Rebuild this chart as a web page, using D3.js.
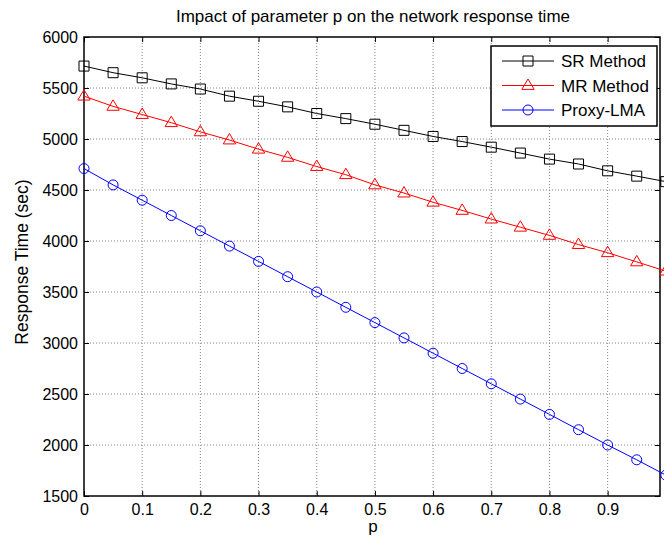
<!DOCTYPE html>
<html>
<head>
<meta charset="utf-8">
<script src="https://cdn.jsdelivr.net/npm/d3@7"></script>
<style>
  html, body { margin: 0; padding: 0; background: #fff; }
  svg { display: block; font-family: "Liberation Sans", Arial, Helvetica, sans-serif; }
</style>
</head>
<body>
<svg id="chart" width="664" height="543"></svg>
<script>
// Parameter p sampled every 0.05
const pValues = [0, 0.05, 0.1, 0.15, 0.2, 0.25, 0.3, 0.35, 0.4, 0.45, 0.5,
                 0.55, 0.6, 0.65, 0.7, 0.75, 0.8, 0.85, 0.9, 0.95, 1.0];
const srMethod = [5715, 5650, 5600, 5540, 5490, 5420, 5370, 5315, 5250, 5200, 5145,
                  5085, 5025, 4975, 4920, 4862, 4803, 4755, 4688, 4636, 4582];
const mrMethod = [5420, 5320, 5240, 5160, 5070, 4990, 4900, 4820, 4730, 4650, 4550,
                  4470, 4380, 4300, 4215, 4135, 4055, 3965, 3885, 3795, 3705];
const proxyLMA = [4710, 4550, 4400, 4250, 4100, 3950, 3800, 3650, 3500, 3350, 3200,
                  3050, 2900, 2750, 2600, 2450, 2300, 2150, 2000, 1855, 1705];
const xTicks = [0, 0.1, 0.2, 0.3, 0.4, 0.5, 0.6, 0.7, 0.8, 0.9];
const yTicks = [1500, 2000, 2500, 3000, 3500, 4000, 4500, 5000, 5500, 6000];
const seriesNames = ["SR Method", "MR Method", "Proxy-LMA"];

const series = [
  { name: seriesNames[0], values: srMethod, color: "#000000", marker: "square" },
  { name: seriesNames[1], values: mrMethod, color: "#ff0000", marker: "triangle" },
  { name: seriesNames[2], values: proxyLMA, color: "#0000ff", marker: "circle" }
];

const plotLeft = 84, plotRight = 660, plotTop = 37, plotBottom = 496;
const svg = d3.select("#chart");

const x = d3.scaleLinear().domain([0, 0.99]).range([plotLeft, plotRight]);
const y = d3.scaleLinear().domain([1500, 6000]).range([plotBottom, plotTop]);

// dotted grid
const grid = svg.append("g");
grid.selectAll(".gx").data(xTicks.slice(1)).enter().append("line")
  .attr("x1", d => x(d)).attr("x2", d => x(d))
  .attr("y1", plotTop).attr("y2", plotBottom)
  .attr("stroke", "#666").attr("stroke-width", 0.8).attr("stroke-dasharray", "1,2");
grid.selectAll(".gy").data(yTicks.slice(1, -1)).enter().append("line")
  .attr("x1", plotLeft).attr("x2", plotRight)
  .attr("y1", d => y(d)).attr("y2", d => y(d))
  .attr("stroke", "#666").attr("stroke-width", 0.8).attr("stroke-dasharray", "1,2");

// axes with inward ticks
const tickLen = 5;
const xAxis = svg.append("g").attr("transform", `translate(0,${plotBottom})`)
  .call(d3.axisBottom(x).tickValues(xTicks).tickSize(-tickLen).tickPadding(8)
        .tickFormat(d => d === 0 ? "0" : d3.format(".1f")(d)));
const xAxisTop = svg.append("g").attr("transform", `translate(0,${plotTop})`)
  .call(d3.axisTop(x).tickValues(xTicks).tickSize(-tickLen).tickFormat(""));
const yAxis = svg.append("g").attr("transform", `translate(${plotLeft},0)`)
  .call(d3.axisLeft(y).tickValues(yTicks).tickSize(-tickLen).tickPadding(6)
        .tickFormat(d3.format("d")));
const yAxisRight = svg.append("g").attr("transform", `translate(${plotRight},0)`)
  .call(d3.axisRight(y).tickValues(yTicks).tickSize(-tickLen).tickFormat(""));

[xAxis, xAxisTop, yAxis, yAxisRight].forEach(g => {
  g.select(".domain").remove();
  g.selectAll(".tick line").attr("stroke", "#000").attr("stroke-width", 1);
  g.selectAll(".tick text").attr("fill", "#000").style("font-size", "16px")
    .style("font-family", "\"Liberation Sans\", Arial, sans-serif");
});

// frame
svg.append("rect").attr("x", plotLeft).attr("y", plotTop)
  .attr("width", plotRight - plotLeft).attr("height", plotBottom - plotTop)
  .attr("fill", "none").attr("stroke", "#000").attr("stroke-width", 1.5);

// marker path generator
function markerPath(type, cx, cy) {
  if (type === "square") {
    const s = 5;
    return `M${cx - s},${cy - s}h${2 * s}v${2 * s}h${-2 * s}Z`;
  }
  if (type === "triangle") {
    const r = 6.5;
    return `M${cx},${cy - r}L${cx + r * 0.95},${cy + r * 0.6}L${cx - r * 0.95},${cy + r * 0.6}Z`;
  }
  const r = 5;
  return `M${cx - r},${cy}a${r},${r} 0 1,0 ${2 * r},0a${r},${r} 0 1,0 ${-2 * r},0Z`;
}

const line = d3.line().x(d => x(d[0])).y(d => y(d[1]));

series.forEach(s => {
  const pts = pValues.map((p, i) => [p, s.values[i]]);
  const g = svg.append("g");
  g.append("path").datum(pts).attr("d", line)
    .attr("fill", "none").attr("stroke", s.color).attr("stroke-width", 1);
  g.selectAll("path.m").data(pts).enter().append("path").attr("class", "m")
    .attr("d", d => markerPath(s.marker, x(d[0]), y(d[1])))
    .attr("fill", "none").attr("stroke", s.color).attr("stroke-width", 1);
});

// title and axis labels
svg.append("text").attr("x", 373).attr("y", 22)
  .attr("text-anchor", "middle").style("font-size", "17px").text("Impact of parameter p on the network response time");
svg.append("text").attr("x", 373).attr("y", 532)
  .attr("text-anchor", "middle").style("font-size", "17px").text("p");
svg.append("text").attr("transform", "translate(28," + 262 + ") rotate(-90)")
  .attr("text-anchor", "middle").style("font-size", "17.5px").text("Response Time (sec)");

// legend
const lg = svg.append("g");
const lx = 491, ly = 46, lw = 166, lh = 80;
lg.append("rect").attr("x", lx).attr("y", ly).attr("width", lw).attr("height", lh)
  .attr("fill", "#fff").attr("stroke", "#000").attr("stroke-width", 1.5);
series.forEach((s, i) => {
  const cy = ly + 15 + i * 24.5;
  lg.append("line").attr("x1", lx + 11).attr("x2", lx + 63).attr("y1", cy).attr("y2", cy)
    .attr("stroke", s.color).attr("stroke-width", 1);
  lg.append("path").attr("d", markerPath(s.marker, lx + 37, cy))
    .attr("fill", "none").attr("stroke", s.color).attr("stroke-width", 1);
  lg.append("text").attr("x", lx + 70).attr("y", cy + 6)
    .style("font-size", "17px").text(s.name);
});
</script>
</body>
</html>
